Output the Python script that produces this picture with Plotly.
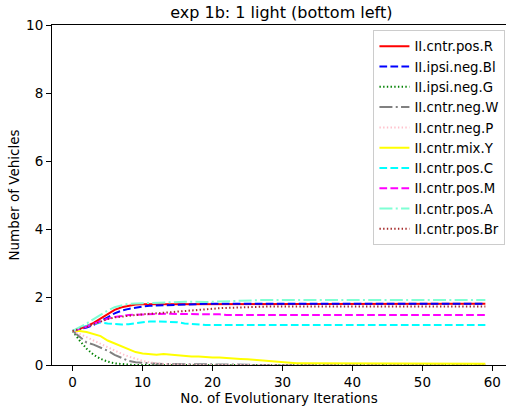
import plotly.graph_objects as go

iterations = list(range(60))

R = [1.00,1.06,1.14,1.24,1.36,1.50,1.62,1.70,1.75,1.78,
     1.79,1.79,1.80,1.80,1.81,1.81,1.81,1.80,1.81,1.81,
     1.81,1.81,1.80,1.80,1.80,1.80,1.80,1.80,1.80,1.80,
     1.80,1.80,1.80,1.80,1.80,1.80,1.80,1.80,1.80,1.80,
     1.80,1.80,1.80,1.80,1.80,1.80,1.80,1.80,1.80,1.80,
     1.80,1.80,1.80,1.80,1.80,1.80,1.80,1.80,1.80,1.80]
Bl = [1.00,1.04,1.10,1.18,1.28,1.40,1.52,1.60,1.65,1.69,
      1.72,1.74,1.75,1.76,1.77,1.78,1.79,1.79,1.80,1.80,
      1.80,1.80,1.81,1.81,1.81,1.80,1.80,1.80,1.80,1.80,
      1.80,1.80,1.80,1.80,1.80,1.80,1.80,1.80,1.80,1.80,
      1.80,1.80,1.80,1.80,1.80,1.80,1.80,1.80,1.80,1.80,
      1.80,1.80,1.80,1.80,1.80,1.80,1.80,1.80,1.80,1.80]
G = [1.00,0.72,0.48,0.30,0.18,0.10,0.05,0.02,0.01,0.00,
     0.00,0.00,0.00,0.00,0.00,0.00,0.00,0.00,0.00,0.00,
     0.00,0.00,0.00,0.00,0.00,0.00,0.00,0.00,0.00,0.00,
     0.00,0.00,0.00,0.00,0.00,0.00,0.00,0.00,0.00,0.00,
     0.00,0.00,0.00,0.00,0.00,0.00,0.00,0.00,0.00,0.00,
     0.00,0.00,0.00,0.00,0.00,0.00,0.00,0.00,0.00,0.00]
W = [1.00,0.82,0.66,0.60,0.52,0.42,0.30,0.20,0.12,0.08,
     0.06,0.05,0.04,0.03,0.03,0.02,0.02,0.02,0.01,0.01,
     0.01,0.01,0.01,0.01,0.01,0.01,0.00,0.00,0.00,0.00,
     0.00,0.00,0.00,0.00,0.00,0.00,0.00,0.00,0.00,0.00,
     0.00,0.00,0.00,0.00,0.00,0.00,0.00,0.00,0.00,0.00,
     0.00,0.00,0.00,0.00,0.00,0.00,0.00,0.00,0.00,0.00]
P = [1.00,0.92,0.82,0.72,0.62,0.52,0.42,0.33,0.25,0.18,
     0.12,0.08,0.05,0.03,0.02,0.01,0.01,0.00,0.00,0.00,
     0.00,0.00,0.00,0.00,0.00,0.00,0.00,0.00,0.00,0.00,
     0.00,0.00,0.00,0.00,0.00,0.00,0.00,0.00,0.00,0.00,
     0.00,0.00,0.00,0.00,0.00,0.00,0.00,0.00,0.00,0.00,
     0.00,0.00,0.00,0.00,0.00,0.00,0.00,0.00,0.00,0.00]
Y = [1.00,1.00,0.97,0.92,0.85,0.72,0.64,0.56,0.46,0.38,
     0.34,0.31,0.30,0.32,0.30,0.28,0.26,0.25,0.25,0.23,
     0.22,0.22,0.20,0.19,0.18,0.17,0.15,0.14,0.13,0.11,
     0.08,0.06,0.05,0.05,0.05,0.05,0.05,0.05,0.05,0.05,
     0.05,0.05,0.05,0.05,0.05,0.05,0.05,0.05,0.05,0.05,
     0.05,0.05,0.05,0.05,0.05,0.05,0.05,0.04,0.04,0.04]
C = [1.00,1.08,1.15,1.20,1.25,1.22,1.20,1.19,1.20,1.23,
     1.26,1.28,1.28,1.28,1.27,1.26,1.22,1.20,1.19,1.18,
     1.18,1.18,1.18,1.18,1.18,1.18,1.18,1.18,1.18,1.18,
     1.18,1.18,1.18,1.18,1.18,1.18,1.18,1.18,1.18,1.18,
     1.18,1.18,1.18,1.18,1.18,1.18,1.18,1.18,1.18,1.18,
     1.18,1.18,1.18,1.18,1.18,1.18,1.18,1.18,1.18,1.18]
M = [1.00,1.06,1.13,1.21,1.29,1.36,1.41,1.45,1.47,1.48,
     1.49,1.50,1.51,1.52,1.51,1.50,1.50,1.49,1.48,1.49,
     1.50,1.49,1.47,1.47,1.47,1.47,1.47,1.47,1.47,1.47,
     1.47,1.47,1.47,1.47,1.47,1.47,1.47,1.47,1.47,1.47,
     1.47,1.47,1.47,1.47,1.47,1.47,1.47,1.47,1.47,1.47,
     1.47,1.47,1.47,1.47,1.47,1.47,1.47,1.47,1.47,1.47]
A = [1.00,1.10,1.22,1.35,1.48,1.60,1.70,1.76,1.80,1.81,
     1.82,1.82,1.83,1.84,1.85,1.85,1.86,1.86,1.85,1.85,
     1.86,1.87,1.88,1.88,1.89,1.90,1.91,1.91,1.91,1.91,
     1.91,1.91,1.91,1.91,1.91,1.91,1.91,1.91,1.91,1.91,
     1.91,1.91,1.91,1.91,1.91,1.91,1.91,1.91,1.91,1.91,
     1.91,1.91,1.91,1.91,1.91,1.91,1.91,1.91,1.91,1.91]
Br = [1.00,1.05,1.12,1.20,1.28,1.35,1.40,1.43,1.45,1.47,
      1.49,1.50,1.52,1.53,1.55,1.57,1.59,1.61,1.63,1.64,
      1.66,1.67,1.68,1.69,1.70,1.71,1.71,1.72,1.72,1.72,
      1.72,1.72,1.72,1.72,1.72,1.72,1.72,1.72,1.72,1.72,
      1.72,1.72,1.72,1.72,1.72,1.72,1.72,1.72,1.72,1.72,
      1.72,1.72,1.72,1.72,1.72,1.72,1.72,1.72,1.72,1.72]

names = ["II.cntr.pos.R", "II.ipsi.neg.Bl", "II.ipsi.neg.G", "II.cntr.neg.W",
         "II.cntr.neg.P", "II.cntr.mix.Y", "II.cntr.pos.C", "II.cntr.pos.M",
         "II.cntr.pos.A", "II.cntr.pos.Br"]
series = [R, Bl, G, W, P, Y, C, M, A, Br]
colors = ["red", "blue", "green", "gray", "pink", "yellow", "cyan", "magenta",
          "aquamarine", "brown"]
SOLID = "solid"
DASH = "7.7px,3.3px"
DOT = "1.4px,2.3px"
DASHDOT = "13px,3.3px,2px,3.3px"
dashes = [SOLID, DASH, DOT, DASHDOT, DOT, SOLID, DASH, DASH, DASHDOT, DOT]

fig = go.Figure()
for n, s, c, d in zip(names, series, colors, dashes):
    fig.add_trace(go.Scatter(x=iterations, y=s, name=n, mode="lines",
                             line=dict(color=c, width=2, dash=d)))

font = "DejaVu Sans, sans-serif"
axis_common = dict(showline=True, linecolor="black", linewidth=1, mirror=True,
                   ticks="outside", ticklen=5, tickcolor="black", showgrid=False,
                   zeroline=False, automargin=False,
                   tickfont=dict(size=13.5, color="black", family=font))
fig.update_layout(
    width=506, height=407,
    margin=dict(l=52, r=0, t=25, b=42),
    paper_bgcolor="white", plot_bgcolor="white",
    font=dict(family=font, color="black", size=13),
    title=dict(text="exp 1b: 1 light (bottom left)", x=0.556, xanchor="center",
               y=0.97, yanchor="middle", font=dict(size=16, family=font, color="black")),
    xaxis=dict(range=[-2.95, 61.95], tickvals=[0, 10, 20, 30, 40, 50, 60],
               title=dict(text="No. of Evolutionary Iterations", standoff=4,
                          font=dict(size=13.5, family=font)), **axis_common),
    yaxis=dict(range=[0, 10], tickvals=[0, 2, 4, 6, 8, 10],
               title=dict(text="Number of Vehicles", standoff=3,
                          font=dict(size=13.5, family=font)), **axis_common),
    legend=dict(x=0.708, y=0.985, xanchor="left", yanchor="top",
                bgcolor="rgba(255,255,255,0.8)", bordercolor="#cccccc", borderwidth=1,
                font=dict(size=13.3, family=font), tracegroupgap=0, itemwidth=30),
    showlegend=True,
)

fig.write_html("out.html", config={"displayModeBar": False},
               post_script="document.body.style.margin='0px';document.body.style.overflow='hidden';")
